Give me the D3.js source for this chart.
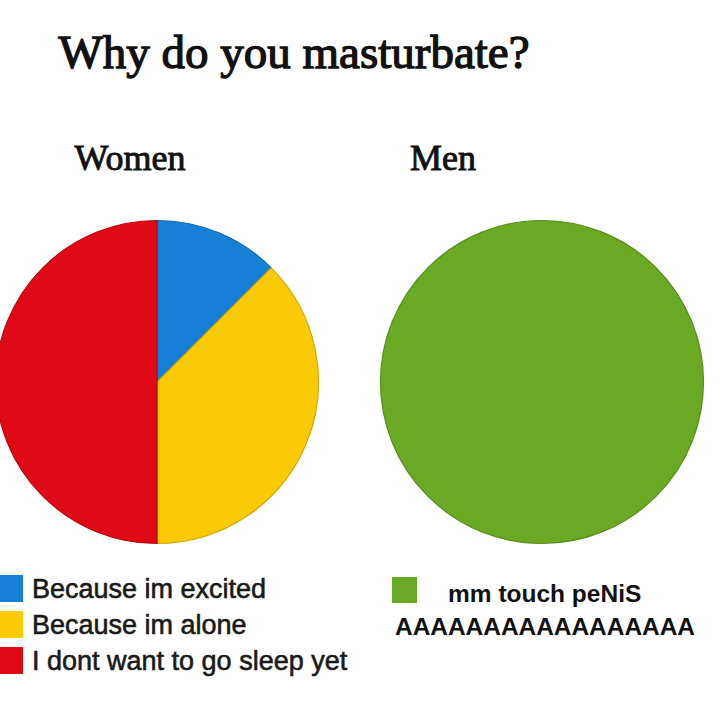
<!DOCTYPE html>
<html><head><meta charset="utf-8">
<script src="https://cdn.jsdelivr.net/npm/d3@7"></script>
<style>html,body{margin:0;padding:0;background:#fff;}</style>
</head><body>
<svg id="chart" width="720" height="706"></svg>
<script>
const title = "Why do you masturbate?";
const groups = ["Women", "Men"];
const womenLabels = ["Because im excited", "Because im alone", "I dont want to go sleep yet"];
const womenValues = [12.5, 37.5, 50];
const womenColors = ["#1680d6", "#fbca06", "#df0a15"];
const menLabels = ["mm touch peNiS"];
const menValues = [100];
const menColors = ["#6aa923"];
const menExtraLine = "AAAAAAAAAAAAAAAAA";

const svg = d3.select("#chart");
svg.append("rect").attr("width",720).attr("height",706).attr("fill","#fff");

svg.append("text").attr("x",294).attr("y",68).attr("text-anchor","middle")
  .attr("font-family","'Liberation Serif','Times New Roman',serif").attr("font-size",47)
  .attr("fill","#111").attr("stroke","#111").attr("stroke-width",1.3).text(title);

const groupX = [130, 443];
groups.forEach((g,i)=>{
  svg.append("text").attr("x",groupX[i]).attr("y",170).attr("text-anchor","middle")
    .attr("font-family","'Liberation Serif','Times New Roman',serif").attr("font-size",36)
    .attr("fill","#111").attr("stroke","#111").attr("stroke-width",0.9).text(g);
});

const pie = d3.pie().sort(null).value(d=>d);
const r = 161.5;
const arc = d3.arc().innerRadius(0).outerRadius(r);

function drawPie(cx, cy, values, colors){
  const gp = svg.append("g").attr("transform",`translate(${cx},${cy})`);
  gp.selectAll("path").data(pie(values)).join("path")
    .attr("d",arc).attr("fill",(d,i)=>colors[i])
    .attr("stroke",(d,i)=>d3.color(colors[i]).darker(0.5)).attr("stroke-width",1.2);
}
drawPie(157, 382, womenValues, womenColors);
drawPie(542, 382, menValues, menColors);

// Women legend
const ly = d3.scalePoint().domain(womenLabels).range([598, 670]);
const lg = svg.append("g");
womenLabels.forEach((lab,i)=>{
  const y = ly(lab);
  lg.append("rect").attr("x",0).attr("y",y-23).attr("width",23).attr("height",27).attr("fill",womenColors[i]);
  lg.append("text").attr("x",32).attr("y",y)
    .attr("font-family","'Liberation Sans',Arial,sans-serif").attr("font-size",27)
    .attr("fill","#1a1a1a").attr("stroke","#1a1a1a").attr("stroke-width",0.6).text(lab);
});

// Men legend
svg.append("rect").attr("x",392).attr("y",577).attr("width",25).attr("height",26).attr("fill",menColors[0]);
svg.append("text").attr("x",448).attr("y",602)
  .attr("font-family","'Liberation Sans',Arial,sans-serif").attr("font-size",24.5).attr("font-weight","bold")
  .attr("fill","#111").text(menLabels[0]);
svg.append("text").attr("x",395).attr("y",635)
  .attr("font-family","'Liberation Sans',Arial,sans-serif").attr("font-size",24).attr("font-weight","bold")
  .attr("fill","#111").attr("textLength",300).attr("lengthAdjust","spacingAndGlyphs").text(menExtraLine);
</script>
</body></html>
